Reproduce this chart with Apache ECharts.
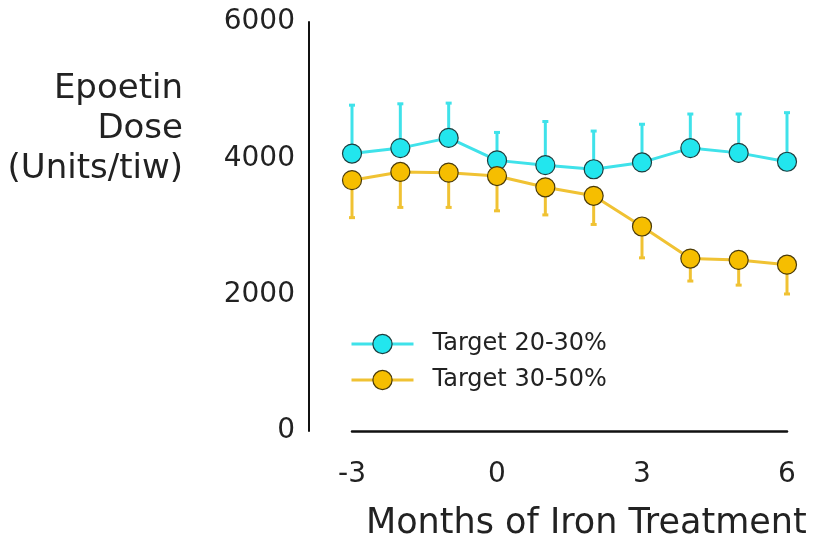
<!DOCTYPE html>
<html>
<head>
<meta charset="utf-8">
<script src="https://cdn.jsdelivr.net/npm/echarts@6/dist/echarts.min.js"></script>
<style>
  html, body { margin: 0; padding: 0; background: #fff; }
  #chart { width: 813px; height: 547px; }
</style>
</head>
<body>
<div id="chart"></div>
<script>
// Months relative to the start of iron treatment
const months = [-3, -2, -1, 0, 1, 2, 3, 4, 5, 6];
const xTicks = [-3, 0, 3, 6];
const yTicks = [0, 2000, 4000, 6000];

// Target 20-30%: mean dose and upper end of its error bar
const low_mean = [4070, 4150, 4300, 3970, 3900, 3840, 3940, 4150, 4080, 3950];
const low_upper = [4780, 4800, 4810, 4380, 4540, 4400, 4500, 4650, 4650, 4670];

// Target 30-50%: mean dose and lower end of its error bar
const high_mean = [3680, 3800, 3790, 3740, 3575, 3450, 3000, 2530, 2510, 2440];
const high_lower = [3130, 3280, 3280, 3230, 3170, 3030, 2540, 2200, 2140, 2010];

const seriesNames = ['Target 20-30%', 'Target 30-50%'];

const CYAN_LINE = '#3fe2ea';
const CYAN_FILL = '#22e6ee';
const GOLD_LINE = '#f0c233';
const GOLD_FILL = '#f6be00';
const FONT = 'DejaVu Sans';

function errorBars(means, ends, color) {
  return {
    type: 'custom',
    z: 1,
    silent: true,
    data: months.map((m, i) => [m, means[i], ends[i]]),
    renderItem: function (params, api) {
      const p0 = api.coord([api.value(0), api.value(1)]);
      const p1 = api.coord([api.value(0), api.value(2)]);
      const st = { stroke: color, lineWidth: 3 };
      return {
        type: 'group',
        children: [
          { type: 'line', shape: { x1: p0[0], y1: p0[1], x2: p1[0], y2: p1[1] }, style: st },
          { type: 'line', shape: { x1: p1[0] - 3, y1: p1[1], x2: p1[0] + 3, y2: p1[1] }, style: st }
        ]
      };
    }
  };
}

function lineSeries(name, values, lineColor, fillColor, border) {
  return {
    name: name,
    type: 'line',
    z: 3,
    data: months.map((m, i) => [m, values[i]]),
    symbol: 'circle',
    symbolSize: 19,
    lineStyle: { color: lineColor, width: 3 },
    itemStyle: { color: fillColor, borderColor: border, borderWidth: 1.2 }
  };
}

const chart = echarts.init(document.getElementById('chart'), null, { renderer: 'canvas' });

chart.setOption({
  backgroundColor: '#ffffff',
  animation: false,
  grid: { left: 352, right: 26, top: 22, bottom: 116 },
  xAxis: {
    type: 'value',
    min: xTicks[0],
    max: xTicks[xTicks.length - 1],
    interval: 3,
    axisLine: { show: true, onZero: false, lineStyle: { color: '#111', width: 2.5 } },
    axisTick: { show: false },
    splitLine: { show: false },
    axisLabel: {
      margin: 30,
      color: '#222',
      fontFamily: FONT,
      fontSize: 28,
      formatter: v => String(v)
    }
  },
  yAxis: {
    type: 'value',
    min: yTicks[0],
    max: yTicks[yTicks.length - 1],
    interval: 2000,
    offset: 43,
    axisLine: { show: true, onZero: false, lineStyle: { color: '#111', width: 2 } },
    axisTick: { show: false },
    splitLine: { show: false },
    axisLabel: {
      margin: 14,
      color: '#222',
      fontFamily: FONT,
      fontSize: 28,
      formatter: v => String(v)
    }
  },
  legend: {
    data: seriesNames,
    orient: 'vertical',
    left: 345,
    top: 327,
    itemWidth: 62,
    itemHeight: 24,
    itemGap: 12,
    itemStyle: { borderWidth: 1.2 },
    lineStyle: { width: 3 },
    textStyle: { color: '#222', fontFamily: FONT, fontSize: 24, padding: [0, 0, 0, 14] }
  },
  graphic: [
    {
      type: 'text',
      x: 183,
      y: 69,
      style: {
        text: 'Epoetin\nDose\n(Units/tiw)',
        align: 'right',
        verticalAlign: 'top',
        fill: '#222',
        font: '34px "DejaVu Sans"',
        lineHeight: 40
      }
    },
    {
      type: 'text',
      x: 366,
      y: 506,
      style: {
        text: 'Months of Iron Treatment',
        verticalAlign: 'top',
        fill: '#222',
        font: '35px "DejaVu Sans"'
      }
    }
  ],
  series: [
    errorBars(low_mean, low_upper, CYAN_LINE),
    errorBars(high_mean, high_lower, GOLD_LINE),
    lineSeries(seriesNames[0], low_mean, CYAN_LINE, CYAN_FILL, '#1d3d3e'),
    lineSeries(seriesNames[1], high_mean, GOLD_LINE, GOLD_FILL, '#4a3a08')
  ]
});
</script>
</body>
</html>
